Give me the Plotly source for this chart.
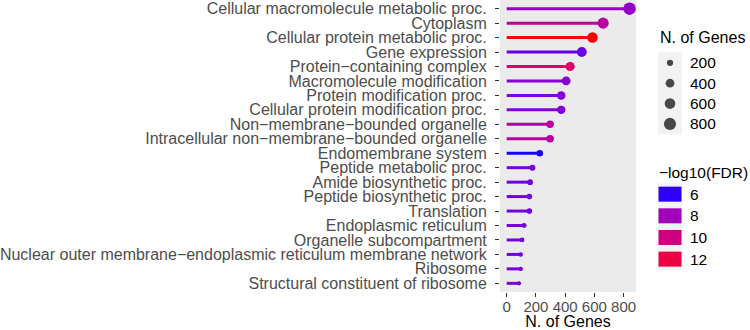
import numpy as np
import plotly.graph_objects as go

# ---------------- data ----------------
categories = [
    "Cellular macromolecule metabolic proc.",
    "Cytoplasm",
    "Cellular protein metabolic proc.",
    "Gene expression",
    "Protein\u2212containing complex",
    "Macromolecule modification",
    "Protein modification proc.",
    "Cellular protein modification proc.",
    "Non\u2212membrane\u2212bounded organelle",
    "Intracellular non\u2212membrane\u2212bounded organelle",
    "Endomembrane system",
    "Peptide metabolic proc.",
    "Amide biosynthetic proc.",
    "Peptide biosynthetic proc.",
    "Translation",
    "Endoplasmic reticulum",
    "Organelle subcompartment",
    "Nuclear outer membrane\u2212endoplasmic reticulum membrane network",
    "Ribosome",
    "Structural constituent of ribosome",
]
n_genes = [841, 660, 587, 514, 434, 407, 373, 373, 297, 297,
           226, 176, 160, 155, 155, 119, 105, 96, 96, 84]
neglog10_fdr = [7.6, 9.0, 13.5, 6.6, 10.8, 7.3, 7.1, 7.1, 8.8, 8.8,
                5.9, 6.9, 6.8, 6.8, 6.8, 6.9, 6.9, 6.8, 6.9, 6.9]
size_breaks = [200, 400, 600, 800]
color_breaks = [6, 8, 10, 12]
x_ticks = [0, 200, 400, 600, 800]

# ---------------- scales ----------------
FDR_MIN, FDR_MAX = 5.85, 13.5
WHITE = np.array([0.95047, 1.0, 1.08883])
M = np.array([[0.4124564, 0.3575761, 0.1804375],
              [0.2126729, 0.7151522, 0.0721750],
              [0.0193339, 0.1191920, 0.9503041]])


def rgb_to_lab(rgb):
    c = np.array(rgb, float) / 255
    c = np.where(c <= 0.04045, c / 12.92, ((c + 0.055) / 1.055) ** 2.4)
    xyz = M @ c / WHITE
    d = 6 / 29
    f = np.where(xyz > d ** 3, np.cbrt(xyz), xyz / (3 * d * d) + 4 / 29)
    return np.array([116 * f[1] - 16, 500 * (f[0] - f[1]), 200 * (f[1] - f[2])])


def lab_to_hex(lab):
    L, a, b = lab
    fy = (L + 16) / 116
    fx = fy + a / 500
    fz = fy - b / 200
    d = 6 / 29
    f = np.array([fx, fy, fz])
    xyz = np.where(f > d, f ** 3, 3 * d * d * (f - 4 / 29)) * WHITE
    lin = np.linalg.solve(M, xyz)
    lin = np.clip(lin, 0, 1)
    c = np.where(lin <= 0.0031308, 12.92 * lin, 1.055 * lin ** (1 / 2.4) - 0.055)
    c = np.clip(np.round(c * 255), 0, 255).astype(int)
    return "#%02x%02x%02x" % tuple(c)


LAB_LOW = rgb_to_lab((0, 0, 255))
LAB_HIGH = rgb_to_lab((255, 0, 0))


def fdr_color(v):
    t = min(max((v - FDR_MIN) / (FDR_MAX - FDR_MIN), 0), 1)
    return lab_to_hex(LAB_LOW + t * (LAB_HIGH - LAB_LOW))


def size_px(v):
    return 0.4 + 0.417 * np.sqrt(v)


FONT = "Liberation Sans, Arial, sans-serif"
fig = go.Figure()

# segments
for cat, v, f in zip(categories, n_genes, neglog10_fdr):
    fig.add_trace(go.Scatter(
        x=[0, v], y=[cat, cat], mode="lines",
        line=dict(color=fdr_color(f), width=3),
        hoverinfo="skip", showlegend=False))

# points
fig.add_trace(go.Scatter(
    x=n_genes, y=categories, mode="markers",
    marker=dict(size=[size_px(v) for v in n_genes],
                color=[fdr_color(f) for f in neglog10_fdr],
                line=dict(width=0), opacity=1),
    showlegend=False, cliponaxis=False))

# ---------------- legends drawn on an auxiliary axis (pixel-like units) ----------------
size_key_y = [63.3, 83.8, 104.3, 124.8]
color_key_y = [195.5, 217.3, 239.1, 260.9]

fig.add_trace(go.Scatter(
    x=[20] * len(size_breaks), y=size_key_y, mode="markers",
    marker=dict(size=[size_px(v) for v in size_breaks], color="black",
                line=dict(width=0)),
    xaxis="x2", yaxis="y2", showlegend=False, hoverinfo="skip", cliponaxis=False))

for yk, cb in zip(color_key_y, color_breaks):
    fig.add_trace(go.Scatter(
        x=[8.5, 31.5], y=[yk, yk], mode="lines",
        line=dict(color=fdr_color(cb), width=15),
        xaxis="x2", yaxis="y2", showlegend=False, hoverinfo="skip"))

annotations = [
    dict(x=8, y=38, xref="x2", yref="y2", text="N. of Genes", showarrow=False,
         xanchor="left", yanchor="middle", font=dict(size=16, color="black", family=FONT)),
    dict(x=7, y=174, xref="x2", yref="y2", text="\u2212log10(FDR)", showarrow=False,
         xanchor="left", yanchor="middle", font=dict(size=15.5, color="black", family=FONT)),
]
for yk, sb in zip(size_key_y, size_breaks):
    annotations.append(dict(x=38, y=yk, xref="x2", yref="y2", text=str(sb), showarrow=False,
                            xanchor="left", yanchor="middle",
                            font=dict(size=15.5, color="black", family=FONT)))
for yk, cb in zip(color_key_y, color_breaks):
    annotations.append(dict(x=38, y=yk, xref="x2", yref="y2", text=str(cb), showarrow=False,
                            xanchor="left", yanchor="middle",
                            font=dict(size=15.5, color="black", family=FONT)))

shapes = [
    dict(type="rect", xref="x domain", yref="y domain", x0=0, x1=1, y0=0, y1=1,
         fillcolor="#ebebeb", line=dict(width=0), layer="below"),
    dict(type="rect", xref="x2", yref="y2", x0=8, x1=32, y0=52.5, y1=135.5,
         fillcolor="#f2f2f2", line=dict(width=0), layer="below"),
    dict(type="rect", xref="x2", yref="y2", x0=8, x1=32, y0=184.6, y1=271.8,
         fillcolor="#f2f2f2", line=dict(width=0), layer="below"),
]

fig.update_layout(
    width=750, height=330,
    margin=dict(l=500, r=0, t=0, b=36, pad=0),
    paper_bgcolor="white", plot_bgcolor="white",
    font=dict(family=FONT, size=16, color="#4d4d4d"),
    xaxis=dict(domain=[0, 0.544], range=[-46, 885], tickvals=x_ticks,
               showgrid=False, zeroline=False, showline=False,
               ticks="outside", ticklen=4, tickwidth=1, tickcolor="#333333",
               ticklabelstandoff=-3,
               tickfont=dict(size=15, color="#4d4d4d"),
               title=dict(text="N. of Genes", font=dict(size=16, color="black"), standoff=4)),
    yaxis=dict(type="category", categoryorder="array", categoryarray=categories,
               tickmode="linear", tick0=0, dtick=1,
               range=[len(categories) - 0.4, -0.6],
               showgrid=False, zeroline=False, showline=False,
               ticks="outside", ticklen=4, tickwidth=1, tickcolor="#333333",
               ticklabelstandoff=5,
               tickfont=dict(size=16, color="#4d4d4d")),
    xaxis2=dict(domain=[0.6, 1.0], range=[0, 100], anchor="y2", visible=False),
    yaxis2=dict(domain=[0, 1], range=[294, 0], anchor="x2", visible=False),
    annotations=annotations,
    shapes=shapes,
)

fig.write_html("out.html", config={"displayModeBar": False},
               post_script="document.body.style.margin='0';")
